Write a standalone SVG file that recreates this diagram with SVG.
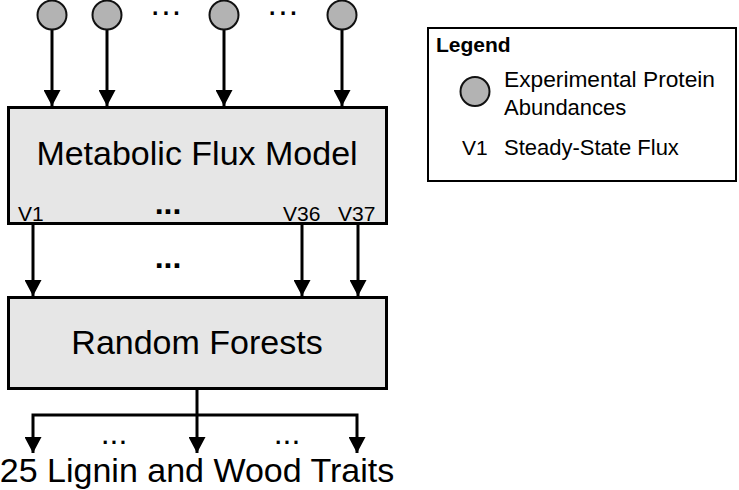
<svg xmlns="http://www.w3.org/2000/svg" width="739" height="490" viewBox="0 0 739 490">
<style>
text{font-family:"Liberation Sans",Arial,sans-serif;fill:#000}
.box{fill:#e6e6e6;stroke:#000;stroke-width:3}
.prot{fill:#b3b3b3;stroke:#111;stroke-width:2}
.con{stroke:#000;stroke-width:3;fill:none}
.arr{marker-end:url(#ah)}
.big{font-size:34px}
.mid{font-size:21px}
.dots{font-size:32px;font-weight:bold;text-anchor:middle}
.tdots{font-size:23px;font-weight:bold;text-anchor:middle;letter-spacing:3px}
</style>
<defs>
<marker id="ah" markerUnits="userSpaceOnUse" markerWidth="17" markerHeight="17" refX="16" refY="8.5" orient="auto" viewBox="0 0 17 17">
<path d="M0,0 L16,8.5 L0,17 z" fill="#000"/>
</marker>
</defs>
<rect width="739" height="490" fill="#fff"/>
<g id="connectors">
<line class="con arr" x1="52" y1="30" x2="52" y2="106"/>
<line class="con arr" x1="107" y1="30" x2="107" y2="106"/>
<line class="con arr" x1="224" y1="30" x2="224" y2="106"/>
<line class="con arr" x1="342" y1="30" x2="342" y2="106"/>
<line class="con arr" x1="33" y1="225" x2="33" y2="296"/>
<line class="con arr" x1="302" y1="225" x2="302" y2="296"/>
<line class="con arr" x1="358" y1="225" x2="358" y2="296"/>
<polyline class="con" points="197,389 197,415"/>
<polyline class="con arr" points="197,415 33,415 33,453"/>
<line class="con arr" x1="197" y1="415" x2="197" y2="453"/>
<polyline class="con arr" points="197,415 357,415 357,453"/>
<text class="tdots" x="168" y="21">···</text>
<text class="tdots" x="285" y="21">···</text>
<text class="dots" x="168" y="268">...</text>
<text class="dots" x="114" y="444" style="font-weight:normal">...</text>
<text class="dots" x="287" y="444" style="font-weight:normal">...</text>
</g>
<g id="protein1"><circle class="prot" cx="52" cy="15" r="14.5"/></g>
<g id="protein2"><circle class="prot" cx="107" cy="15" r="14.5"/></g>
<g id="protein3"><circle class="prot" cx="224" cy="15" r="14.5"/></g>
<g id="protein4"><circle class="prot" cx="342" cy="15" r="14.5"/></g>
<g id="flux-model">
<rect class="box" x="8.5" y="107.5" width="378" height="116"/>
<text class="big" x="197" y="165" text-anchor="middle">Metabolic Flux Model</text>
<text class="mid" x="18" y="221">V1</text>
<text class="dots" x="168" y="214">...</text>
<text class="mid" x="283" y="221">V36</text>
<text class="mid" x="338" y="221">V37</text>
</g>
<g id="random-forests">
<rect class="box" x="8.5" y="297.5" width="378" height="91"/>
<text class="big" x="197" y="354" text-anchor="middle">Random Forests</text>
</g>
<g id="traits">
<text class="big" x="197" y="482" text-anchor="middle">25 Lignin and Wood Traits</text>
</g>
<g id="legend">
<rect x="428" y="28" width="308" height="153" fill="#fff" stroke="#000" stroke-width="2"/>
<text x="436" y="52" font-size="21" font-weight="bold">Legend</text>
<circle class="prot" cx="475" cy="91.5" r="14.5"/>
<text x="504" y="87" font-size="22" textLength="211" lengthAdjust="spacingAndGlyphs">Experimental Protein</text>
<text x="504" y="115" font-size="22">Abundances</text>
<text x="462" y="155" font-size="21">V1</text>
<text x="504" y="155" font-size="22">Steady-State Flux</text>
</g>
</svg>
